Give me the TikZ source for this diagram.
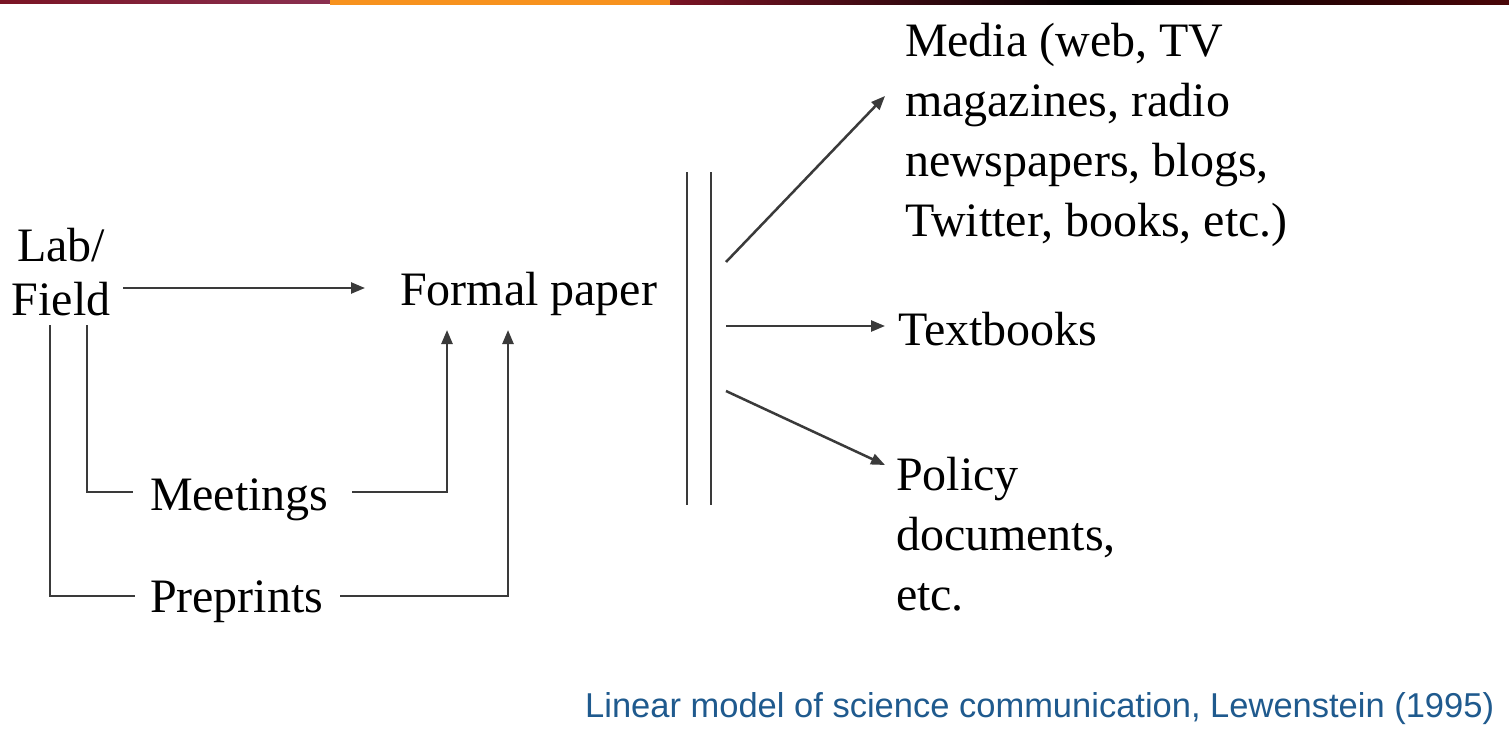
\documentclass[tikz,border=0pt]{standalone}
\usepackage{fontspec}
\setmainfont{Liberation Serif}
\newfontfamily\capfont{Liberation Sans}
\usetikzlibrary{arrows.meta}
\definecolor{linegray}{HTML}{3A3A3A}
\definecolor{capblue}{HTML}{1F5A8E}
\definecolor{bandmaroon}{HTML}{7A1424}
\definecolor{bandplum}{HTML}{8A3050}
\definecolor{bandorange}{HTML}{F7921E}
\definecolor{banddark}{HTML}{4A0608}
\begin{document}
\begin{tikzpicture}[x=1pt,y=-1pt,
  label/.style={inner sep=0pt, outer sep=0pt, font=\fontsize{48}{60}\selectfont, text=black},
  link/.style={draw=linegray, line width=2.5pt},
  flow/.style={link, -{Triangle[length=14pt,width=11pt]}},
  rule/.style={draw=linegray, line width=2.2pt}]
\useasboundingbox (0,0) rectangle (1509,755);
\fill[white] (0,0) rectangle (1509,755);

% coloured band along the top edge
\shade[left color=bandmaroon, right color=bandplum] (0,0) rectangle (330,3);
\fill[bandorange] (330,0) rectangle (670,4.5);
\shade[left color=bandmaroon, right color=black] (670,0) rectangle (1100,4.5);
\shade[left color=black, right color=banddark] (1100,0) rectangle (1509,4.5);

% text nodes (multi-line nodes are placed by the baseline of their last line)
\node[label, align=center, font=\fontsize{48}{54}\selectfont, anchor=base] (lab) at (61,315) {Lab/\\Field};
\node[label, anchor=base west] (paper) at (400,305) {Formal paper};
\node[label, anchor=base west] (meet) at (150,510) {Meetings};
\node[label, anchor=base west] (pre) at (150,612) {Preprints};
\node[label, align=left, anchor=base west] (media) at (905,236) {Media (web, TV\\magazines, radio\\newspapers, blogs,\\Twitter, books, etc.)};
\node[label, anchor=base west] (text) at (898,345) {Textbooks};
\node[label, align=left, anchor=base west] (policy) at (896,610) {Policy\\documents,\\etc.};
\node[inner sep=0pt, anchor=base west, font=\capfont\fontsize{34.5}{38}\selectfont, text=capblue] (cap) at (585,717)
  {Linear model of science communication, Lewenstein (1995)};

% double barrier
\coordinate (barTa) at (687,172); \coordinate (barBa) at (687,505);
\coordinate (barTb) at (711,172); \coordinate (barBb) at (711,505);
\draw[rule] (barTa) -- (barBa);
\draw[rule] (barTb) -- (barBb);

% main flow
\coordinate (labOut) at (123,288);
\coordinate (paperIn) at (365,288);
\draw[flow] (labOut) -- (paperIn);

% side channels from the lab
\coordinate (fieldA) at (50,325);
\coordinate (fieldB) at (87,325);
\coordinate (meetL) at (133,492);
\coordinate (meetR) at (352,492);
\coordinate (preL) at (135,596);
\coordinate (preR) at (340,596);
\coordinate (meetUp) at (447,330);
\coordinate (preUp) at (508,330);
\draw[link] (fieldB) |- (meetL);
\draw[flow] (meetR) -| (meetUp);
\draw[link] (fieldA) |- (preL);
\draw[flow] (preR) -| (preUp);

% fan-out past the barrier
\coordinate (outA) at (726,262);
\coordinate (outB) at (726,326);
\coordinate (outC) at (726,391);
\coordinate (inA) at (885,96);
\coordinate (inB) at (885,326);
\coordinate (inC) at (885,465);
\draw[flow] (outA) -- (inA);
\draw[flow] (outB) -- (inB);
\draw[flow] (outC) -- (inC);
\end{tikzpicture}
\end{document}
